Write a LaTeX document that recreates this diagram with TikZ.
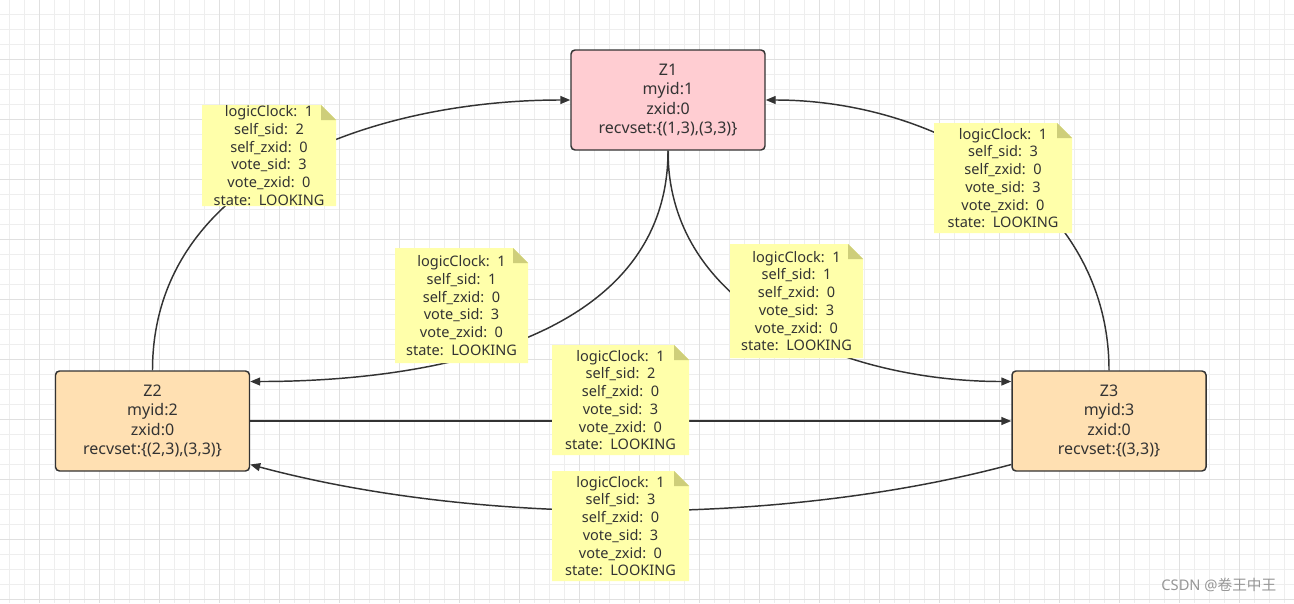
\documentclass[tikz,border=0pt]{standalone}
\usepackage{fontspec}
\setmainfont{Noto Sans}
\newfontfamily\cjkfont{Noto Sans CJK SC}
\usetikzlibrary{arrows.meta}

\definecolor{ink}{RGB}{51,51,51}
\definecolor{gridminor}{RGB}{238,238,238}
\definecolor{gridmajor}{RGB}{224,224,224}
\definecolor{leaderfill}{RGB}{255,205,210}
\definecolor{peerfill}{RGB}{255,224,178}
\definecolor{notefill}{RGB}{255,255,170}
\definecolor{notefold}{RGB}{206,206,122}
\definecolor{markgray}{RGB}{150,150,150}

% contents of one vote message
\newcommand{\votemsg}[2]{logicClock:~~1\\self\_sid:~~#1\\self\_zxid:~~0\\vote\_sid:~~#2\\vote\_zxid:~~0\\state:~~LOOKING}

\begin{document}
\begin{tikzpicture}[x=0.75pt,y=0.75pt,
	>={Triangle[length=7.5pt,width=6pt]},
	server/.style={draw=ink,line width=1.1pt,rounded corners=3pt,inner sep=0pt,
		minimum width=145.5pt,minimum height=75pt,align=center,text=ink,
		font=\fontsize{12}{14.6}\selectfont},
	vote/.style={inner sep=0pt,minimum width=101.25pt,minimum height=82.5pt,
		align=center,text=ink,font=\fontsize{10.9}{13.3}\selectfont,
		path picture={
			\fill[notefill] (path picture bounding box.north west)
				-- ([xshift=-11.25pt]path picture bounding box.north east)
				-- ([yshift=-11.25pt]path picture bounding box.north east)
				-- (path picture bounding box.south east)
				-- (path picture bounding box.south west) -- cycle;
			\fill[notefold] ([xshift=-11.25pt]path picture bounding box.north east)
				-- ([yshift=-11.25pt]path picture bounding box.north east)
				-- ([xshift=-11.25pt,yshift=-11.25pt]path picture bounding box.north east) -- cycle;
		}},
	link/.style={draw=ink,line width=1.1pt,->}
	]
	\useasboundingbox (0,0) rectangle (1294,-603);

	% background grid
	\foreach \gx in {9.5,24.5,...,1294} \draw[gridminor,line width=0.75pt] (\gx,0) -- (\gx,-603);
	\foreach \gy in {14,29,...,603} \draw[gridminor,line width=0.75pt] (0,-\gy) -- (1294,-\gy);
	\foreach \gx in {39.5,99.5,...,1294} \draw[gridmajor,line width=0.75pt] (\gx,0) -- (\gx,-603);
	\foreach \gy in {59,119,...,603} \draw[gridmajor,line width=0.75pt] (0,-\gy) -- (1294,-\gy);

	% servers
	\node[server,fill=leaderfill] (z1) at (668,-100) {Z1\\myid:1\\zxid:0\\recvset:\{(1,3),(3,3)\}};
	\node[server,fill=peerfill] (z2) at (152.5,-421) {Z2\\myid:2\\zxid:0\\recvset:\{(2,3),(3,3)\}};
	\node[server,fill=peerfill] (z3) at (1109,-421) {Z3\\myid:3\\zxid:0\\recvset:\{(3,3)\}};

	% messages
	\draw[link] (z2.north) to[out=90,in=180] (z1.west);
	\draw[link] (z3.north) to[out=90,in=0] (z1.east);
	\draw[link] (z1.south) to[out=-90,in=0] (z2.22);
	\draw[link] (z1.south) to[out=-90,in=180] (z3.158);
	\draw[link] (z2.east) -- (z3.west);
	\draw[link] (z3.204) to[out=195,in=-15,looseness=0.8] (z2.-24);

	% vote notes
	\node[vote,minimum width=100.5pt,minimum height=75.75pt] (v21) at (269,-155.5) {\votemsg{2}{3}};
	\node[vote,minimum width=99.75pt,minimum height=86.25pt] (v12) at (461.5,-305.5) {\votemsg{1}{3}};
	\node[vote,minimum width=99.75pt,minimum height=85.5pt] (v13) at (796.5,-301) {\votemsg{1}{3}};
	\node[vote,minimum width=103.5pt] (v31) at (1003,-178) {\votemsg{3}{3}};
	\node[vote,minimum width=102.75pt] (v23) at (620.5,-400) {\votemsg{2}{3}};
	\node[vote,minimum width=102.75pt] (v32) at (620.5,-526) {\votemsg{3}{3}};

	\node[anchor=east,text=markgray,font=\fontsize{11}{12}\selectfont] (mark) at (1281,-585) {CSDN @{\cjkfont 卷王中王}};
\end{tikzpicture}
\end{document}
